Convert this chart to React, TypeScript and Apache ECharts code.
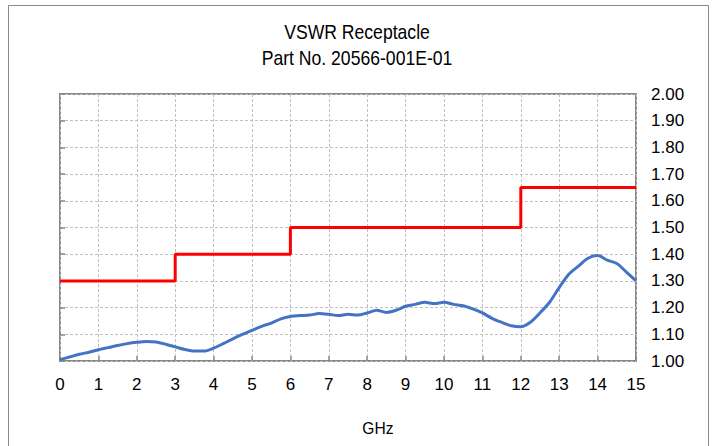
import React, { useEffect, useRef } from "react";
import * as echarts from "echarts";

const freq = [0,0.25,0.5,0.75,1,1.25,1.5,1.75,2,2.25,2.5,2.75,3,3.25,3.5,3.75,4,4.25,4.5,4.75,5,5.25,5.5,5.75,6,6.25,6.5,6.75,7,7.25,7.5,7.75,8,8.25,8.5,8.75,9,9.25,9.5,9.75,10,10.25,10.5,10.75,11,11.25,11.5,11.75,12,12.25,12.5,12.75,13,13.25,13.5,13.75,14,14.25,14.5,14.75,15];
const vswr = [1.005,1.015,1.025,1.033,1.042,1.05,1.058,1.065,1.07,1.073,1.071,1.063,1.053,1.043,1.037,1.037,1.048,1.065,1.083,1.1,1.115,1.13,1.142,1.158,1.167,1.17,1.172,1.178,1.175,1.17,1.175,1.172,1.18,1.19,1.182,1.19,1.205,1.212,1.22,1.215,1.22,1.212,1.207,1.195,1.18,1.16,1.145,1.132,1.128,1.145,1.18,1.22,1.275,1.325,1.355,1.385,1.395,1.378,1.365,1.333,1.3];
const limitFreq = [0, 3, 6, 12, 15];
const limitVswr = [1.3, 1.4, 1.5, 1.65, 1.65];
const titleLines = ["VSWR Receptacle", "Part No. 20566-001E-01"];
const xName = "GHz";

const FONT = "'Liberation Sans', Arial, sans-serif";

export default function App() {
  const ref = useRef<HTMLDivElement>(null);
  useEffect(() => {
    if (!ref.current) return;
    const chart = echarts.init(ref.current, null, { renderer: "svg" });
    chart.setOption({
      animation: false,
      backgroundColor: "#fff",
      textStyle: { fontFamily: FONT },
      graphic: [
        { type: "rect", shape: { x: 8.5, y: 5.5, width: 700, height: 460 }, style: { fill: "none", stroke: "#888", lineWidth: 1 }, silent: true },
        {
          type: "text", x: 357, y: 32, scaleX: 0.88,
          style: { text: titleLines[0], fontFamily: FONT, fontSize: 20, fill: "#000", align: "center", verticalAlign: "middle" },
        },
        {
          type: "text", x: 357, y: 58, scaleX: 0.88,
          style: { text: titleLines[1], fontFamily: FONT, fontSize: 20, fill: "#000", align: "center", verticalAlign: "middle" },
        },
        {
          type: "text", x: 378, y: 428, scaleX: 0.92,
          style: { text: xName, fontFamily: FONT, fontSize: 17, fill: "#000", align: "center", verticalAlign: "middle" },
        },
      ],
      grid: { left: 60, right: 77, top: 94, bottom: 85, show: true, borderColor: "#888", borderWidth: 2, backgroundColor: "transparent" },
      xAxis: {
        type: "value", min: 0, max: 15, interval: 1,
        axisLine: { show: false },
        axisTick: { show: true, inside: true, length: 5, lineStyle: { color: "#888", width: 1.5 } },
        axisLabel: { fontFamily: FONT, fontSize: 17, color: "#000", margin: 15 },
        splitLine: { show: true, lineStyle: { color: "#c0c0c0", type: [3, 2], width: 1 } },
      },
      yAxis: [
        {
          type: "value", min: 1, max: 2, interval: 0.1, position: "right",
          axisLine: { show: false },
          axisTick: { show: false },
          axisLabel: { fontFamily: FONT, fontSize: 17, color: "#000", margin: 15, formatter: (v: number) => v.toFixed(2) },
          splitLine: { show: true, lineStyle: { color: "#c0c0c0", type: [3, 2], width: 1 } },
        },
        {
          type: "value", min: 1, max: 2, interval: 0.1, position: "left",
          axisLine: { show: false },
          axisTick: { show: true, inside: true, length: 5, lineStyle: { color: "#888", width: 1.5 } },
          axisLabel: { show: false },
          splitLine: { show: false },
        },
      ],
      series: [
        {
          type: "line", name: "limit", step: "end",
          data: limitFreq.map((f, i) => [f, limitVswr[i]]),
          showSymbol: false, lineStyle: { color: "#ff0000", width: 3 }, z: 3,
        },
        {
          type: "line", name: "VSWR",
          data: freq.map((f, i) => [f, vswr[i]]),
          showSymbol: false, smooth: 0.3, lineStyle: { color: "#4472c4", width: 3 }, z: 4,
        },
      ],
    });
    return () => chart.dispose();
  }, []);
  return <div ref={ref} style={{ position: "fixed", left: 0, top: 0, width: 713, height: 446 }} />;
}
